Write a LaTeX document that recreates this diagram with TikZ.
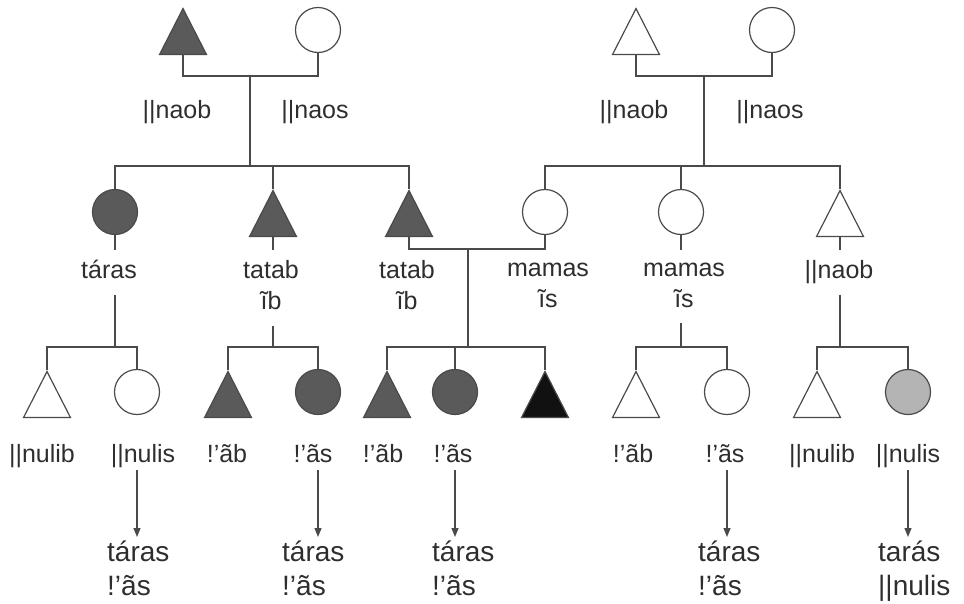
\documentclass[tikz,border=0pt]{standalone}
\usepackage{fontspec}
\setmainfont{Liberation Sans}
\usetikzlibrary{arrows.meta, shapes.geometric}

\definecolor{ink}{HTML}{4A4A4A}
\definecolor{txt}{HTML}{2E2E2E}
\definecolor{dark}{HTML}{5A5A5A}
\definecolor{pale}{HTML}{B4B4B4}
\definecolor{blk}{HTML}{111111}

\newcommand{\lstrut}{\rule[-6pt]{0pt}{22pt}}

\begin{document}
\begin{tikzpicture}[x=1pt, y=-1pt,
    male/.style={draw=ink, line width=1.2pt, isosceles triangle, isosceles triangle stretches,
        shape border rotate=90, minimum width=47pt, minimum height=46pt, inner sep=0pt, anchor=apex},
    female/.style={draw=ink, line width=1.2pt, circle, minimum size=45pt, inner sep=0pt},
    term/.style={font=\fontsize{25}{31}\selectfont, text=txt, align=center, inner xsep=0pt, inner ysep=10pt, anchor=north},
    kin/.style={font=\fontsize{25}{31}\selectfont, text=txt, inner xsep=0pt, inner ysep=2pt, anchor=base},
    result/.style={font=\fontsize{28}{34}\selectfont, text=txt, align=left, inner xsep=0pt, inner ysep=4pt, anchor=north west},
    link/.style={draw=ink, line width=1.2pt},
    becomes/.style={link, -{Triangle[length=9pt, width=7pt]}}
]
\useasboundingbox (0,0) rectangle (964,603);

% Grandparents
\node[male, fill=dark] (gf1) at (183,7) {};
\node[female] (gm1) at (318,30) {};
\node[male] (gf2) at (636,7) {};
\node[female] (gm2) at (772,30) {};
\node[kin] (g1) at (177,118) {||naob};
\node[kin] (g2) at (315,118) {||naos};
\node[kin] (g3) at (634,118) {||naob};
\node[kin] (g4) at (770,118) {||naos};

\coordinate (m1) at (250,76);
\coordinate (s1) at (250,166);
\coordinate (m2) at (704,76);
\coordinate (s2) at (704,166);
\draw[link] (gf1.lower side) |- (m1) -| (gm1.south);
\draw[link] (gf2.lower side) |- (m2) -| (gm2.south);
\draw[link] (m1) -- (s1);
\draw[link] (m2) -- (s2);

% Parents
\node[female, fill=dark] (c1) at (115,212) {};
\node[male, fill=dark] (c2) at (273,189) {};
\node[male, fill=dark] (c3) at (409,189) {};
\node[female] (c4) at (545,212) {};
\node[female] (c5) at (681,212) {};
\node[male] (c6) at (840,189) {};

\draw[link] (c1.north) |- (s1) -| (c3.apex);
\draw[link] (c2.apex) -- (c2.apex |- s1);
\draw[link] (c4.north) |- (s2) -| (c6.apex);
\draw[link] (c5.north) -- (c5.north |- s2);

\node[term] (l1) at (109,250) {\lstrut táras};
\node[term] (l2) at (271,250) {\lstrut tatab\\\lstrut ĩb};
\node[term] (l3) at (407,250) {\lstrut tatab\\\lstrut ĩb};
\node[term] (l4) at (548,250) {\lstrut mamas\\\lstrut ĩs};
\node[term] (l5) at (684,250) {\lstrut mamas\\\lstrut ĩs};
\node[term] (l6) at (839,250) {\lstrut ||naob};

\coordinate (m3) at (468,249);
\coordinate (s3) at (468,347);
\coordinate (f1) at (115,347);
\coordinate (f2) at (273,347);
\coordinate (f4) at (681,347);
\coordinate (f5) at (840,347);
\draw[link] (c1.south) -- (c1.south |- l1.north);
\draw[link] (c2.lower side) -- (c2.lower side |- l2.north);
\draw[link] (c5.south) -- (c5.south |- l5.north);
\draw[link] (c6.lower side) -- (c6.lower side |- l6.north);
\draw[link] (c3.lower side) |- (m3) -| (c4.south);
\draw[link] (m3) -- (s3);
\draw[link] (f1 |- l1.south) -- (f1);
\draw[link] (f2 |- l2.south) -- (f2);
\draw[link] (f4 |- l5.south) -- (f4);
\draw[link] (f5 |- l6.south) -- (f5);

% Children
\node[male] (d1) at (47,370) {};
\node[female] (d2) at (137,392) {};
\node[male, fill=dark] (d3) at (228,370) {};
\node[female, fill=dark] (d4) at (318,392) {};
\node[male, fill=dark] (d5) at (387,370) {};
\node[female, fill=dark] (d6) at (455,392) {};
\node[male, fill=blk] (d7) at (545,370) {};
\node[male] (d8) at (636,370) {};
\node[female] (d9) at (727,392) {};
\node[male] (d10) at (817,370) {};
\node[female, fill=pale] (d11) at (908,392) {};

\draw[link] (d1.apex) |- (f1) -| (d2.north);
\draw[link] (d3.apex) |- (f2) -| (d4.north);
\draw[link] (d5.apex) |- (s3) -| (d7.apex);
\draw[link] (d6.north) -- (d6.north |- s3);
\draw[link] (d8.apex) |- (f4) -| (d9.north);
\draw[link] (d10.apex) |- (f5) -| (d11.north);

\node[kin] (n1) at (42,462) {\lstrut ||nulib};
\node[kin] (n2) at (143,462) {\lstrut ||nulis};
\node[kin] (n3) at (227,462) {\lstrut !’ãb};
\node[kin] (n4) at (313,462) {\lstrut !’ãs};
\node[kin] (n5) at (383,462) {\lstrut !’ãb};
\node[kin] (n6) at (453,462) {\lstrut !’ãs};
\node[kin] (n8) at (633,462) {\lstrut !’ãb};
\node[kin] (n9) at (725,462) {\lstrut !’ãs};
\node[kin] (n10) at (822,462) {\lstrut ||nulib};
\node[kin] (n11) at (908,462) {\lstrut ||nulis};

% Terms used later
\node[result] (r1) at (107,537) {táras\\!’ãs};
\node[result] (r2) at (282,537) {táras\\!’ãs};
\node[result] (r3) at (432,537) {táras\\!’ãs};
\node[result] (r4) at (698,537) {táras\\!’ãs};
\node[result] (r5) at (878,537) {tarás\\||nulis};

\foreach \a/\b/\c in {d2/n2/r1, d4/n4/r2, d6/n6/r3, d9/n9/r4, d11/n11/r5} {
    \draw[becomes] (\a |- \b.south) -- (\a |- \c.north);
}

\end{tikzpicture}
\end{document}
